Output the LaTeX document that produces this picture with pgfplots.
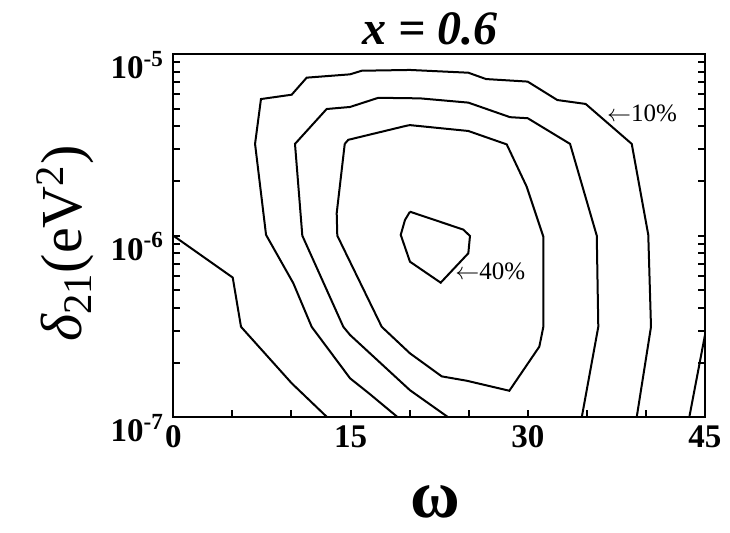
\documentclass[border=0pt]{standalone}
\usepackage{fontspec}
\setmainfont{Liberation Serif}
\usepackage{pgfplots}
\pgfplotsset{compat=1.18}

\begin{document}
\begin{tikzpicture}
\begin{axis}[
    scale only axis,
    width=265.85pt, height=181.65pt,
    xmin=0, xmax=45,
    ymode=log, ymin=1e-7, ymax=1e-5,
    axis line style={line width=1pt},
    tick align=inside,
    tick style={line width=1pt, black},
    major tick length=3.5pt, minor tick length=3.5pt,
    xtick pos=bottom, ytick pos=both,
    xtick={0,15,30,45},
    minor xtick={5,10,20,25,35,40},
    xticklabels={0,15,30,45},
    xticklabel style={font=\fontsize{16.5}{16.5}\selectfont\bfseries, anchor=north, inner sep=0pt, yshift=-4pt},
    ytick={1e-7,1e-6,1e-5},
    minor ytick={2e-7,3e-7,4e-7,5e-7,6e-7,7e-7,8e-7,9e-7,2e-6,3e-6,4e-6,5e-6,6e-6,7e-6,8e-6,9e-6},
    yticklabels={10\textsuperscript{-7},10\textsuperscript{-6},10\textsuperscript{-5}},
    yticklabel style={font=\fontsize{16.5}{16.5}\selectfont\bfseries, anchor=north east, inner sep=0pt, xshift=-4.5pt, yshift=1.75pt},
    title={x = 0.6},
    every axis title/.style={at={(axis description cs:0.483,1.0275)}, anchor=base, inner sep=0pt,
        font=\fontsize{24}{24}\selectfont\bfseries\itshape},
    xlabel={ω},
    xlabel style={at={(axis description cs:0.493,-0.2753)}, anchor=base, inner sep=0pt,
        font=\fontsize{34}{34}\selectfont\bfseries},
    ylabel={{\itshape δ}\textsubscript{21}(eV\textsuperscript{2})},
    ylabel style={at={(axis description cs:-0.1717,0.478)}, anchor=base, inner sep=0pt,
        font=\fontsize{29}{29}\selectfont},
    contour/.style={black, line width=1pt, mark=none},
]
% 10% contour
\addplot[contour] coordinates {
    (19.0,1e-7) (16.65,1.34e-7) (14.96,1.64e-7) (11.71,3.15e-7) (10.16,5.47e-7)
    (7.85,1.01e-6) (6.92,3.2e-6) (7.42,5.65e-6) (10.02,5.97e-6) (11.29,7.41e-6)
    (14.96,7.73e-6) (15.95,8.09e-6) (20.03,8.17e-6) (24.97,7.89e-6) (26.47,7.28e-6)
    (29.99,7.05e-6) (32.5,5.58e-6) (34.9,5.31e-6) (38.8,3.2e-6) (40.2,1.01e-6)
    (40.43,3.15e-7) (39.22,1e-7)
};
% 20% contour
\addplot[contour] coordinates {
    (23.27,1e-7) (20.03,1.41e-7) (14.96,2.84e-7) (14.39,3.15e-7) (10.92,1.0e-6)
    (10.30,3.2e-6) (12.98,4.98e-6) (14.96,5.11e-6) (17.35,5.74e-6) (20.88,5.70e-6)
    (24.97,5.40e-6) (28.5,4.49e-6) (30.0,4.43e-6) (33.58,3.2e-6) (35.84,1.0e-6)
    (35.97,3.15e-7) (34.57,1e-7)
};
% 30% contour
\addplot[contour] coordinates {
    (14.51,3.2e-6) (14.81,3.37e-6) (19.75,4.03e-6) (20.03,4.06e-6) (24.97,3.77e-6)
    (28.22,3.18e-6) (29.91,1.86e-6) (31.32,9.87e-7) (31.32,3.15e-7) (30.98,2.45e-7)
    (28.44,1.40e-7) (24.83,1.59e-7) (22.72,1.68e-7) (20.03,2.25e-7) (17.64,3.15e-7)
    (13.88,1.0e-6) (13.83,1.33e-6) (14.51,3.2e-6)
};
% 40% contour
\addplot[contour] coordinates {
    (20.03,1.355e-6) (24.54,1.08e-6) (25.11,9.96e-7) (24.97,8.0e-7) (22.63,5.51e-7)
    (20.03,7.19e-7) (19.25,1.01e-6) (19.61,1.22e-6) (20.03,1.355e-6)
};
% lower-left and lower-right pieces
\addplot[contour] coordinates {
    (0,1.0e-6) (5.03,5.88e-7) (5.73,3.15e-7) (10.02,1.54e-7) (13.03,1e-7)
};
\addplot[contour] coordinates {
    (45,2.84e-7) (43.67,1e-7)
};
\node[anchor=west, inner sep=0pt, font=\fontsize{12.5}{12.5}\selectfont]
    at (axis cs:36.68,4.71e-6) {$\leftarrow$10\%};
\node[anchor=west, inner sep=0pt, font=\fontsize{12.5}{12.5}\selectfont]
    at (axis cs:23.84,6.33e-7) {$\leftarrow$40\%};
\end{axis}
\pgfresetboundingbox
\path (-86.65pt,-57.85pt) rectangle (278.35pt,208.65pt);
\end{tikzpicture}
\end{document}
